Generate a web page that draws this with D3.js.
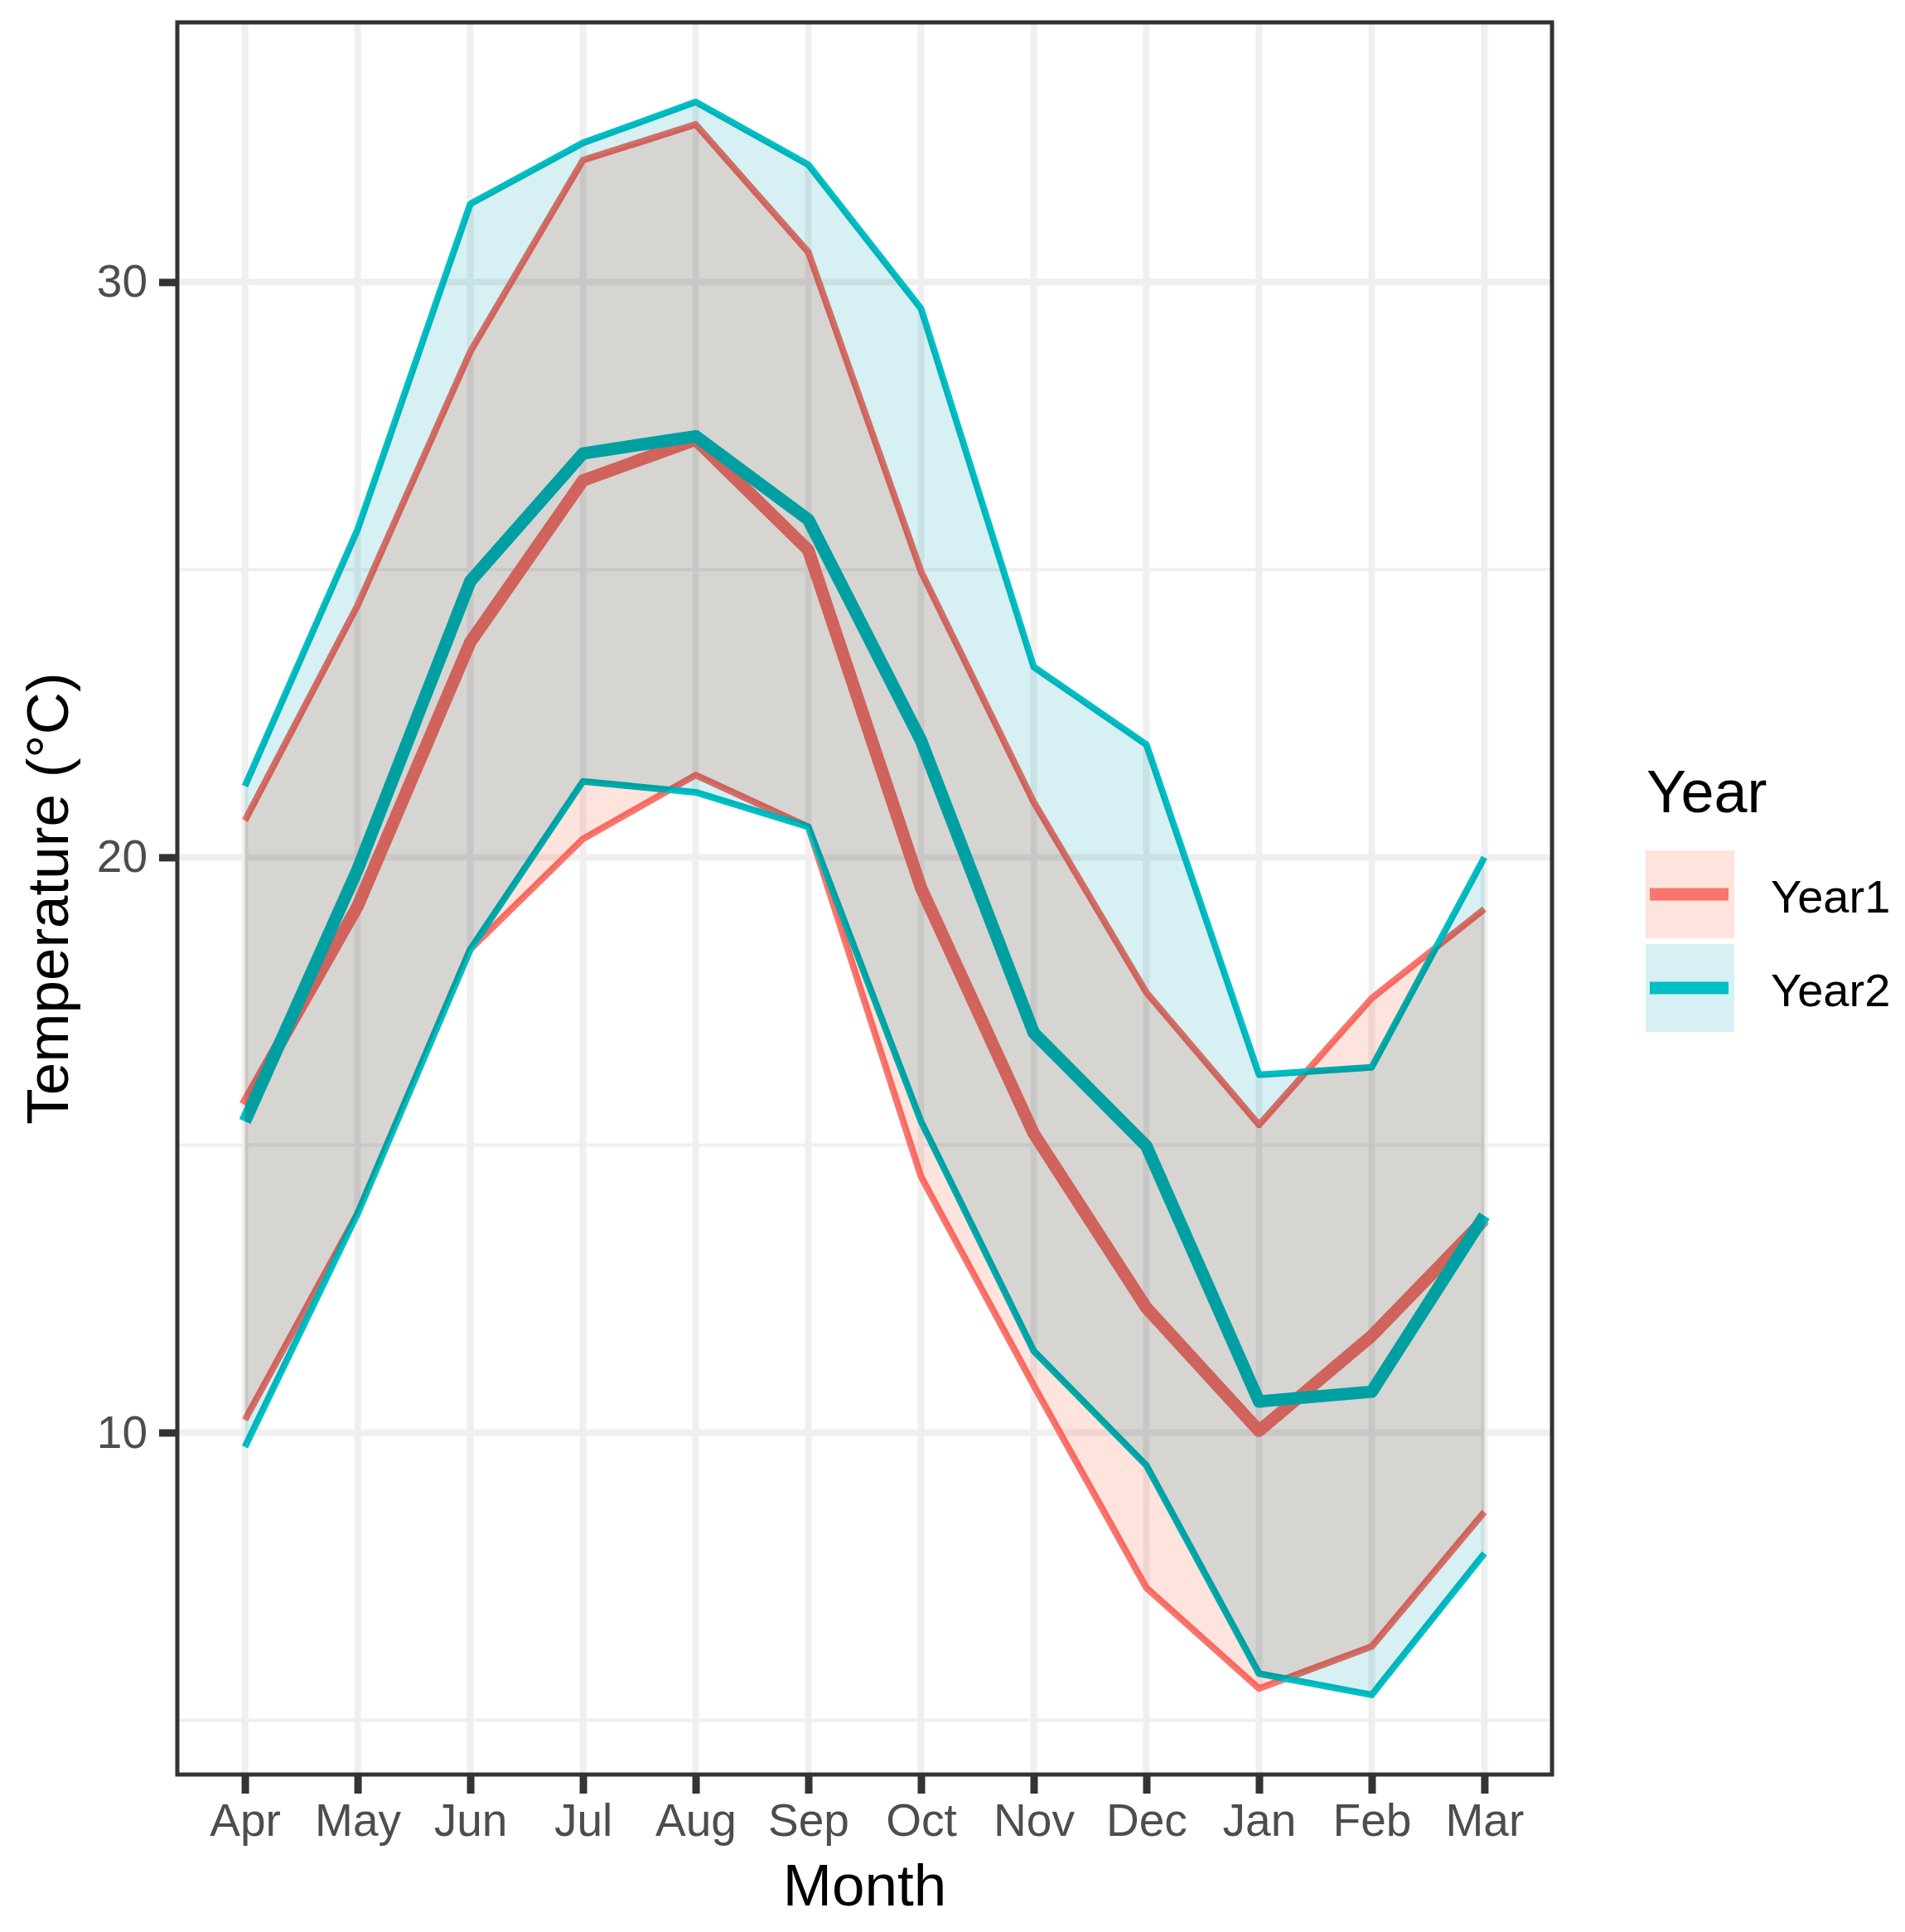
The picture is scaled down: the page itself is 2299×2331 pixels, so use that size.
<html>
    <head>
        <script src="https://d3js.org/d3.v7.min.js"></script>
        <style>
            body { margin: 0; background: #fff; }
            text { font-family: "Liberation Sans", Arial, sans-serif; }
        </style>
    </head>
    <body>
        <svg id="svg" width="2299" height="2331"></svg>
        <script>
            // data
            var months = ["Apr","May","Jun","Jul","Aug","Sep","Oct","Nov","Dec","Jan","Feb","Mar"];
            var years = ["Year1","Year2"];
            var year1Mean = [15.69,19.15,23.74,26.55,27.26,25.34,19.47,15.20,12.17,10.03,11.68,13.70];
            var year1Min  = [10.22,13.81,18.40,20.32,21.43,20.53,14.45,10.82, 7.30, 5.55, 6.28, 8.62];
            var year1Max  = [20.64,24.38,28.79,32.12,32.74,30.52,24.97,20.96,17.65,15.35,17.55,19.10];
            var year2Mean = [15.41,19.79,24.80,27.02,27.32,25.87,22.03,16.95,14.98,10.54,10.71,13.77];
            var year2Min  = [ 9.75,13.81,18.40,21.32,21.13,20.53,15.41,11.42, 9.43, 5.81, 5.44, 7.90];
            var year2Max  = [21.24,25.70,31.36,32.42,33.13,32.04,29.54,23.31,21.96,16.22,16.35,20.00];
            var yMajor = [10,20,30];
            var yMinor = [5,15,25];

            var lineCol = {Year1:"#F8766D", Year2:"#00BFC4"};
            var tintCol = {Year1:"#FFE3DD", Year2:"#D6F0F3"};

            var series = [
                {name:"Year1", mean:year1Mean, min:year1Min, max:year1Max},
                {name:"Year2", mean:year2Mean, min:year2Min, max:year2Max}
            ];

            var svg = d3.select("svg");
            var pLeft = 214, pRight = 1873, pTop = 27, pBottom = 2141;

            svg.append("rect").attr("width",2299).attr("height",2331).attr("fill","#fff");

            var x = d3.scalePoint().domain(months).range([pLeft,pRight]).padding(0.6);
            var all = year1Min.concat(year2Min, year1Max, year2Max);
            var lo = d3.min(all), hi = d3.max(all), span = hi - lo;
            var y = d3.scaleLinear().domain([lo - 0.05*span, hi + 0.05*span]).range([pBottom, pTop]);

            // grid
            var grid = svg.append("g").attr("stroke","#EFEFEF");
            grid.selectAll(".minor").data(yMinor).enter().append("line")
                .attr("x1",pLeft).attr("x2",pRight)
                .attr("y1",d => y(d)).attr("y2",d => y(d))
                .attr("stroke-width",4);
            grid.selectAll(".major").data(yMajor).enter().append("line")
                .attr("x1",pLeft).attr("x2",pRight)
                .attr("y1",d => y(d)).attr("y2",d => y(d))
                .attr("stroke-width",8);
            grid.selectAll(".vmajor").data(months).enter().append("line")
                .attr("x1",d => x(d)).attr("x2",d => x(d))
                .attr("y1",pTop).attr("y2",pBottom)
                .attr("stroke-width",8);

            var line = function(vals){
                return d3.line().x((d,i) => x(months[i])).y(d => y(d))(vals);
            };
            var area = d3.area()
                .x(d => x(d.m)).y0(d => y(d.lo)).y1(d => y(d.hi));

            // lines
            series.forEach(function(s){
                var g = svg.append("g").attr("fill","none").attr("stroke",lineCol[s.name])
                    .attr("stroke-linejoin","round");
                g.append("path").attr("d",line(s.min)).attr("stroke-width",8);
                g.append("path").attr("d",line(s.max)).attr("stroke-width",8);
                g.append("path").attr("d",line(s.mean)).attr("stroke-width",15);
            });

            // ribbons on top, multiplied
            series.forEach(function(s){
                var pts = months.map((m,i) => ({m:m, lo:s.min[i], hi:s.max[i]}));
                svg.append("path").attr("d",area(pts))
                    .attr("fill",tintCol[s.name])
                    .style("mix-blend-mode","multiply");
            });

            // panel border
            svg.append("rect").attr("x",pLeft).attr("y",pTop)
                .attr("width",pRight-pLeft).attr("height",pBottom-pTop)
                .attr("fill","none").attr("stroke","#333333").attr("stroke-width",5);

            // axes
            var xAxis = svg.append("g").attr("transform","translate(0,"+pBottom+")")
                .call(d3.axisBottom(x).tickSize(23).tickPadding(12));
            var yAxis = svg.append("g").attr("transform","translate("+pLeft+",0)")
                .call(d3.axisLeft(y).tickValues(yMajor).tickSize(22).tickPadding(14));
            [xAxis,yAxis].forEach(function(a){
                a.select(".domain").remove();
                a.selectAll(".tick line").attr("stroke","#333333").attr("stroke-width",9);
                a.selectAll(".tick text").attr("fill","#4D4D4D").attr("font-size",55)
                    .attr("font-family","Liberation Sans, Arial, sans-serif");
            });
            xAxis.selectAll(".tick text").attr("dy","0.71em");

            svg.append("text").attr("x",(pLeft+pRight)/2).attr("y",2299)
                .attr("text-anchor","middle").attr("font-size",71).attr("fill","#000")
                .text("Month");
            svg.append("text")
                .attr("transform","translate(82,"+((pTop+pBottom)/2)+") rotate(-90)")
                .attr("text-anchor","middle").attr("font-size",71).attr("fill","#000")
                .text("Temperature (°C)");

            // legend
            var legend = svg.append("g");
            legend.append("text").attr("x",1987).attr("y",980)
                .attr("font-size",72).attr("fill","#000").text("Year");
            years.forEach(function(name,i){
                var ky = 1026 + i*113;
                legend.append("rect").attr("x",1986).attr("y",ky)
                    .attr("width",107).attr("height",106).attr("fill",tintCol[name]);
                legend.append("line").attr("x1",1991).attr("x2",2086)
                    .attr("y1",ky+53).attr("y2",ky+53)
                    .attr("stroke",lineCol[name]).attr("stroke-width",15);
                legend.append("text").attr("x",2137).attr("y",ky+75)
                    .attr("font-size",56).attr("fill","#000").text(name);
            });
        </script>
    </body>
</html>
